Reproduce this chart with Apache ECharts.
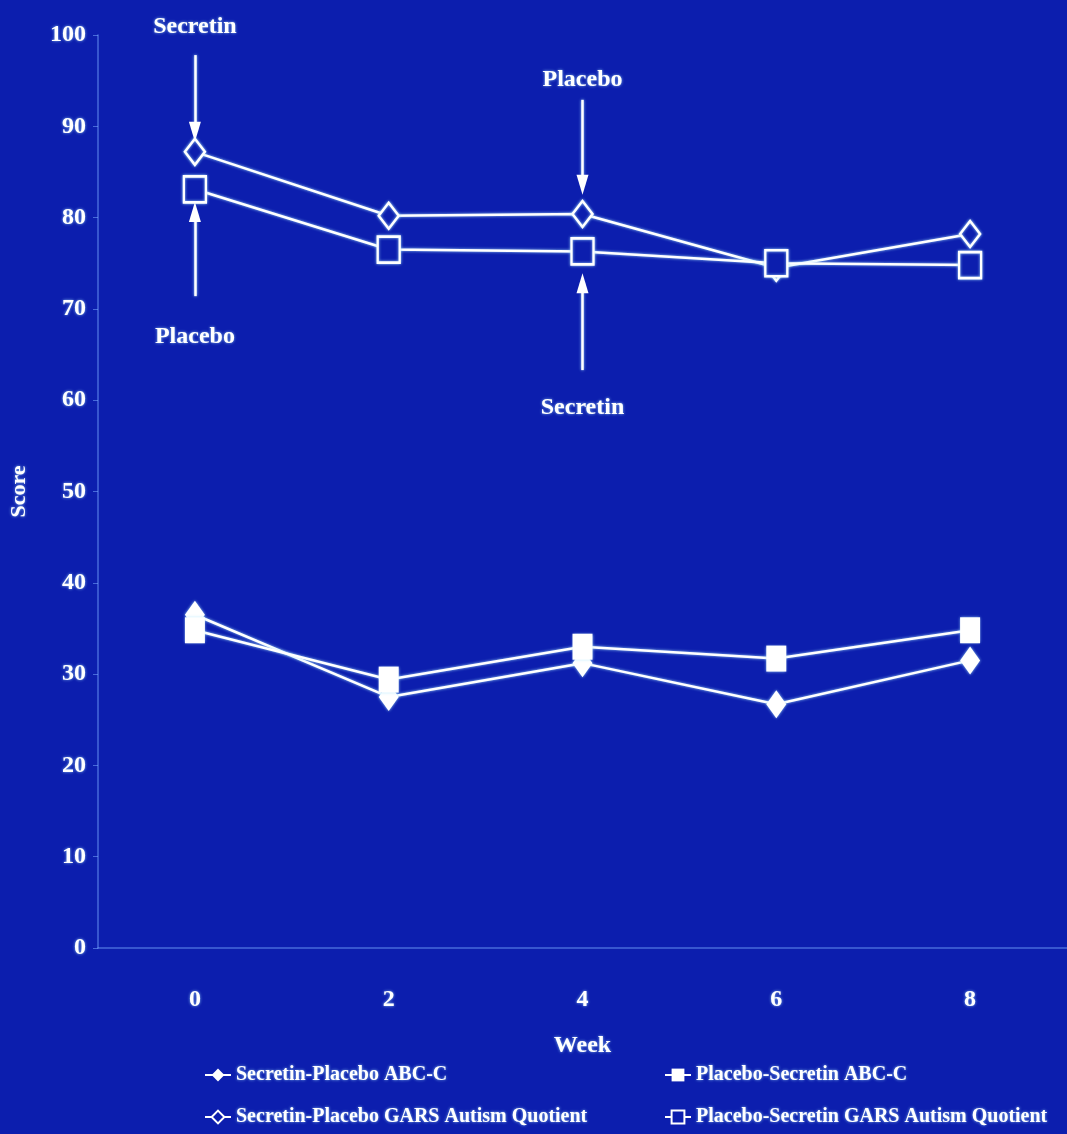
<!DOCTYPE html>
<html>
<head>
<meta charset="utf-8">
<script src="https://cdn.jsdelivr.net/npm/echarts@6/dist/echarts.min.js"></script>
<style>
html,body{margin:0;padding:0;background:#0c1eae;}
#chart{width:1067px;height:1134px;}
</style>
</head>
<body>
<div id="chart"></div>
<script>
// ---- data ----
const weeks = ['0', '2', '4', '6', '8'];
const yTicks = [0, 10, 20, 30, 40, 50, 60, 70, 80, 90, 100];
const seriesNames = [
  'Secretin-Placebo ABC-C',
  'Placebo-Secretin ABC-C',
  'Secretin-Placebo GARS Autism Quotient',
  'Placebo-Secretin GARS Autism Quotient'
];
const spAbc = [36.5, 27.5, 31.2, 26.7, 31.5];
const psAbc = [34.8, 29.4, 33.0, 31.7, 34.8];
const spGars = [87.2, 80.2, 80.4, 74.5, 78.2];
const psGars = [83.1, 76.5, 76.3, 75.0, 74.8];
// annotation arrows: label, week, from value, to value (arrow tip)
const arrowLabels = ['Secretin', 'Placebo', 'Placebo', 'Secretin'];
const arrowWeeks = ['0', '0', '4', '4'];
const arrowFrom = [97.8, 71.4, 92.9, 63.3];
const arrowTo = [89.4, 80.6, 83.6, 72.8];

// ---- styles ----
const BG = '#0c1eae';
const FG = '#ffffff';
const FONT = '"Liberation Serif", "DejaVu Serif", serif';
const AXIS = 'rgba(120,170,255,0.55)';
const glow = { shadowColor: 'rgba(170,230,255,0.9)', shadowBlur: 3 };
const textGlow = { textShadowColor: 'rgba(170,230,255,0.8)', textShadowBlur: 3 };

const labelDist = [16, 29, 8, 26];

const arrowData = arrowLabels.map((lab, i) => ([
  {
    coord: [arrowWeeks[i], arrowFrom[i]],
    label: { show: true, position: 'start', formatter: lab, distance: labelDist[i],
      color: FG, fontFamily: FONT, fontWeight: 'bold', fontSize: 24, ...textGlow }
  },
  { coord: [arrowWeeks[i], arrowTo[i]] }
]));

function lineSeries(name, data, symbol, size, filled, extra) {
  return Object.assign({
    name: name,
    type: 'line',
    data: data,
    symbol: symbol,
    symbolSize: size,
    showAllSymbol: true,
    animation: false,
    lineStyle: Object.assign({ color: FG, width: 2.5 }, glow),
    itemStyle: Object.assign({
      color: filled ? FG : BG,
      borderColor: FG,
      borderWidth: filled ? 0 : 2.5
    }, glow),
    emphasis: { disabled: true }
  }, extra || {});
}

const legendPos = [
  { left: 204, top: 1063 },
  { left: 664, top: 1063 },
  { left: 204, top: 1105 },
  { left: 664, top: 1105 }
];
const legends = seriesNames.map((n, i) => ({
  left: legendPos[i].left, top: legendPos[i].top, padding: 0,
  itemWidth: 26, itemHeight: 16, itemGap: 0,
  data: [n],
  textStyle: { color: FG, fontSize: 20, fontWeight: 'bold', fontFamily: FONT, lineHeight: 24, ...textGlow },
  selectedMode: false
}));

const chart = echarts.init(document.getElementById('chart'), null, { renderer: 'canvas' });
chart.setOption({
  backgroundColor: BG,
  animation: false,
  textStyle: { fontFamily: FONT },
  grid: { left: 98, right: 0, top: 35, bottom: 1134 - 948, containLabel: false, outerBoundsMode: 'none' },
  xAxis: {
    type: 'category',
    data: weeks,
    boundaryGap: true,
    name: 'Week',
    nameLocation: 'middle',
    nameGap: 86,
    nameTextStyle: { color: FG, fontSize: 24, fontWeight: 'bold', fontFamily: FONT, ...textGlow },
    axisLine: { show: true, lineStyle: { color: AXIS, width: 1.5 } },
    axisTick: { show: false },
    axisLabel: { color: FG, fontSize: 24, fontWeight: 'bold', fontFamily: FONT, margin: 40, ...textGlow },
    splitLine: { show: false }
  },
  yAxis: {
    type: 'value',
    min: yTicks[0],
    max: yTicks[yTicks.length - 1],
    interval: yTicks[1] - yTicks[0],
    name: 'Score',
    nameLocation: 'middle',
    nameGap: 68,
    nameTextStyle: { color: FG, fontSize: 22, fontWeight: 'bold', fontFamily: FONT, ...textGlow },
    axisLine: { show: true, lineStyle: { color: AXIS, width: 1.5 } },
    axisTick: { show: true, length: 5, lineStyle: { color: AXIS } },
    axisLabel: { color: FG, fontSize: 24, fontWeight: 'bold', fontFamily: FONT, margin: 12, ...textGlow },
    splitLine: { show: false }
  },
  legend: legends,
  series: [
    lineSeries(seriesNames[0], spAbc, 'diamond', [20, 28], true),
    lineSeries(seriesNames[1], psAbc, 'rect', [20, 26], true),
    lineSeries(seriesNames[2], spGars, 'diamond', [20, 26], false, {
      markLine: {
        silent: true,
        animation: false,
        symbol: ['none', 'triangle'],
        symbolSize: [12, 20],
        lineStyle: Object.assign({ color: FG, width: 2.5, type: 'solid' }, glow),
        label: { show: true },
        data: arrowData
      }
    }),
    lineSeries(seriesNames[3], psGars, 'rect', [22, 26], false)
  ]
});
</script>
</body>
</html>
